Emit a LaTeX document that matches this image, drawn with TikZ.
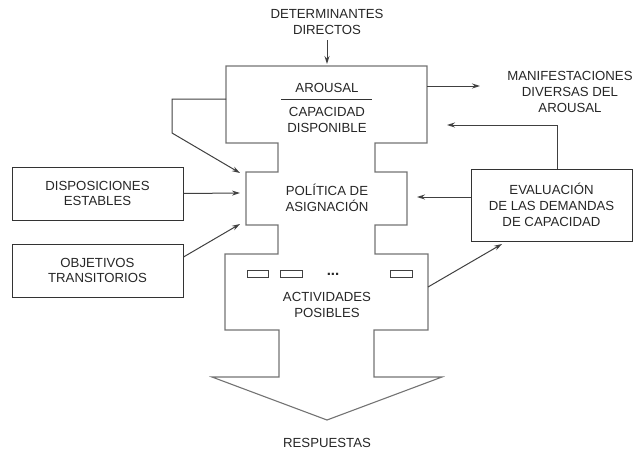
\documentclass[tikz,border=0pt]{standalone}
\usepackage{fontspec}
\setmainfont{Liberation Sans}
\usetikzlibrary{arrows.meta}
\begin{document}
\begin{tikzpicture}[x=1pt,y=-1pt,
  lbl/.style={align=center,font=\fontsize{13.2}{15.8}\selectfont,text=black!85,inner sep=0pt},
  outline/.style={draw=black!55,line width=1.1pt,line join=miter},
  sidebox/.style={draw=black!80,line width=1pt},
  conn/.style={draw=black!75,line width=1pt,-{Stealth[length=8pt,width=5pt]}},
  slot/.style={draw=black!75,line width=0.8pt}]
\useasboundingbox (0,0) rectangle (633,451);

% central flow shape: arousal box, allocation policy, activities, response arrow
\draw[outline] (226,66) -- (427,66) -- (427,143) -- (375,143) -- (375,172)
  -- (407,172) -- (407,225) -- (375,225) -- (375,254) -- (428,254)
  -- (428,330) -- (374,330) -- (374,377) -- (442,377) -- (327,420)
  -- (212,377) -- (279,377) -- (279,330) -- (225,330) -- (225,254)
  -- (278,254) -- (278,225) -- (246,225) -- (246,172) -- (278,172)
  -- (278,143) -- (226,143) -- cycle;

% attachment points on the central shape
\coordinate (topL) at (226,99);
\coordinate (topR) at (427,86);
\coordinate (topIn) at (327,64);
\coordinate (polTL) at (240,173);
\coordinate (polL) at (240,193);
\coordinate (polBL) at (240,224);
\coordinate (polR) at (417,197);
\coordinate (actR) at (428,287);
\coordinate (fbIn) at (447,125);
\coordinate (bendL) at (172,99);
\coordinate (bendL2) at (172,133);
\coordinate (fbCorner) at (557,125);
\coordinate (manifIn) at (480,86);

% texts inside the shape
\node[lbl] (arousal) at (327,88) {AROUSAL};
\draw[black!80,line width=0.8pt] (281,99) coordinate (barL) -- (372,99) coordinate (barR);
\node[lbl] (capac) at (327,120) {CAPACIDAD\\DISPONIBLE};
\node[lbl] (politica) at (327,198) {POLÍTICA DE\\ASIGNACIÓN};
\node[lbl] (activ) at (327,305) {ACTIVIDADES\\POSIBLES};
\node[lbl,font=\bfseries\fontsize{15}{15}\selectfont] (dots) at (333,274) {...};

% activity slots
\draw[slot] (247,270) rectangle (268,277);
\draw[slot] (280,270) rectangle (302,277);
\draw[slot] (390,270) rectangle (412,277);

% outer labels
\node[lbl] (determ) at (327,22) {DETERMINANTES\\DIRECTOS};
\node[lbl] (manif) at (570,92) {MANIFESTACIONES\\DIVERSAS DEL\\AROUSAL};
\node[lbl] (resp) at (327,443) {RESPUESTAS};

% side boxes
\node[sidebox,minimum width=171pt,minimum height=53pt,lbl,draw=black!80] (dispos) at (97.5,193.5) {DISPOSICIONES\\ESTABLES};
\node[sidebox,minimum width=171pt,minimum height=53pt,lbl,draw=black!80] (objet) at (97.5,270.5) {OBJETIVOS\\TRANSITORIOS};
\node[sidebox,minimum width=161pt,minimum height=72pt,lbl,draw=black!80] (evalua) at (551.5,205) {EVALUACIÓN\\DE LAS DEMANDAS\\DE CAPACIDAD};

% connectors
\draw[conn] (determ.south |- 0,40) -- (topIn);
\draw[conn] (topR) -- (manifIn);
\draw[conn] (topL) -- (bendL) -- (bendL2) -- (polTL);
\draw[conn] (dispos.east) -- (polL);
\draw[conn] (objet.east |- 0,257) -- (polBL);
\draw[conn] (evalua.west |- polR) -- (polR);
\draw[conn] (evalua.north -| fbCorner) -- (fbCorner) -- (fbIn);
\draw[conn] (actR) -- (502,244) coordinate (evalIn);
\end{tikzpicture}
\end{document}
